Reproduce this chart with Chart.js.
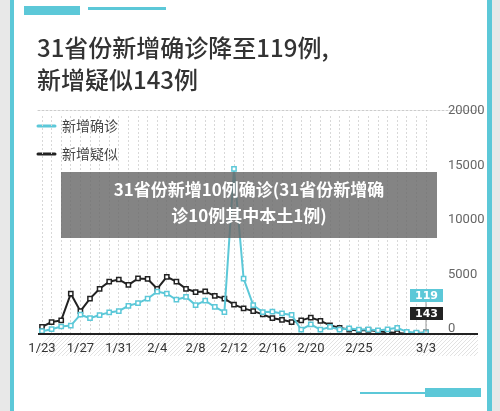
<!DOCTYPE html>
<html><head><meta charset="utf-8">
<script src="https://cdn.jsdelivr.net/npm/chart.js@4"></script>
<style>html,body{margin:0;padding:0;background:#fff}canvas{display:block}</style>
</head><body><canvas id="c" width="500" height="411"></canvas>
<script>
const dates = ['1/23','1/24','1/25','1/26','1/27','1/28','1/29','1/30','1/31','2/1','2/2','2/3','2/4','2/5','2/6','2/7','2/8','2/9','2/10','2/11','2/12','2/13','2/14','2/15','2/16','2/17','2/18','2/19','2/20','2/21','2/22','2/23','2/24','2/25','2/26','2/27','2/28','2/29','3/1','3/2','3/3'];
const shownTicks = ['1/23','1/27','1/31','2/4','2/8','2/12','2/16','2/20','2/25','3/3'];
const confirmed = [259,444,688,769,1771,1459,1737,1982,2102,2590,2829,3235,3887,3694,3143,3399,2656,3062,2478,2015,15152,5090,2641,2009,2048,1886,1749,394,889,397,648,409,508,406,433,327,427,573,202,125,119];
const suspected = [650,1100,1250,3700,2100,3250,4150,4800,5000,4500,5100,5050,4150,5250,4800,4150,3850,3900,3500,3250,2700,2350,2100,1800,1450,1300,1100,1250,1500,1200,800,560,410,320,370,260,170,90,20,60,143];
const yTicks = [0,5000,10000,15000,20000];
const CY='#5cc8d8', BK='#222';
const deco = {
  id:'deco',
  beforeDraw(c){
    const g=c.ctx;
    g.save();
    g.fillStyle='#e8e8e8'; g.fillRect(0,0,10,411); g.fillRect(492,0,8,411);
    g.fillStyle=CY; g.fillRect(10,0,4,411); g.fillRect(487,0,5,411);
    g.fillRect(24,6,56,9); g.fillRect(88,7,78,3);
    g.fillRect(425,388,56,9); g.fillRect(360,392,65,2);
    g.fillStyle='#333'; g.font='500 24px "Noto Sans CJK SC"'; g.textBaseline='middle';
    g.fillText('31省份新增确诊降至119例,',37,48); g.fillText('新增疑似143例',37,80);
    g.lineWidth=3; g.lineCap='round';
    g.strokeStyle=CY; g.beginPath(); g.moveTo(38,126); g.lineTo(55,126); g.stroke();
    g.strokeStyle=BK; g.beginPath(); g.moveTo(38,154); g.lineTo(55,154); g.stroke();
    g.fillStyle='#444'; g.font='14px "Noto Sans CJK SC"';
    g.fillText('新增确诊',62,126); g.fillText('新增疑似',62,154);
    g.strokeStyle='#ccc'; g.lineWidth=1; g.setLineDash([2,2]);
    g.beginPath(); g.moveTo(38,110.5); g.lineTo(480,110.5); g.stroke();
    g.setLineDash([]); g.save(); g.beginPath(); g.rect(38,334,440,22); g.clip();
    g.strokeStyle='#e2e2e2';
    for(let x=30;x<500;x+=4){g.beginPath();g.moveTo(x,356);g.lineTo(x+22,334);g.stroke();}
    g.restore();
    g.restore();
  },
  afterDatasetsDraw(c){
    const g=c.ctx; g.save();
    g.strokeStyle='#222'; g.lineWidth=2; g.beginPath(); g.moveTo(38,334); g.lineTo(478,334); g.stroke();
    const m=c.getDatasetMeta(0).data[40];
    g.strokeStyle='#999'; g.lineWidth=1; g.beginPath(); g.moveTo(m.x,300); g.lineTo(m.x,m.y); g.stroke();
    g.fillStyle=CY; g.fillRect(410,289,33,13);
    g.fillStyle=BK; g.fillRect(410,307,33,13);
    g.fillStyle='#fff'; g.font='bold 11px "DejaVu Sans"'; g.textAlign='center'; g.textBaseline='middle';
    g.fillText('119',426.5,296); g.fillText('143',426.5,314);
    g.fillStyle='rgba(105,105,105,0.82)'; g.fillRect(61,172,376,66);
    g.fillStyle='#fff'; g.font='bold 17px "Noto Sans CJK SC"';
    g.fillText('31省份新增10例确诊(31省份新增确',249,190); g.fillText('诊10例其中本土1例)',249,216);
    g.restore();
  }
};
new Chart(document.getElementById('c'),{
  type:'line',
  data:{labels:dates,datasets:[
    {data:confirmed,borderColor:CY,backgroundColor:'#fff',borderWidth:2,pointStyle:'rect',pointRadius:3,pointBorderWidth:1.5,pointBorderColor:CY,tension:0},
    {data:suspected,borderColor:BK,backgroundColor:'#fff',borderWidth:2,pointStyle:'rect',pointRadius:3,pointBorderWidth:1.5,pointBorderColor:BK,tension:0}
  ]},
  options:{responsive:false,animation:false,
    layout:{padding:{left:42,top:116,right:0,bottom:0}},
    plugins:{legend:{display:false},tooltip:{enabled:false}},
    scales:{
      x:{offset:false,grid:{color:'#d8d8d8',lineWidth:1,drawTicks:false},border:{display:false,dash:[2,2]},
        afterFit(s){s.height=411-334;},
        ticks:{autoSkip:false,maxRotation:0,padding:7,color:'#333',font:{size:13,family:'Roboto'},
          callback(v){const l=dates[v];return shownTicks.includes(l)?l:'';}}},
      y:{position:'right',min:0,max:20000,afterFit(s){s.width=74;},
        afterBuildTicks(s){s.ticks=yTicks.map(v=>({value:v}));},
        grid:{display:false},border:{display:false},
        ticks:{padding:14,color:'#666',font:{size:13,family:'Roboto'},labelOffset:-5,callback:v=>String(v)}}
    }}
  ,plugins:[deco]});
</script></body></html>
